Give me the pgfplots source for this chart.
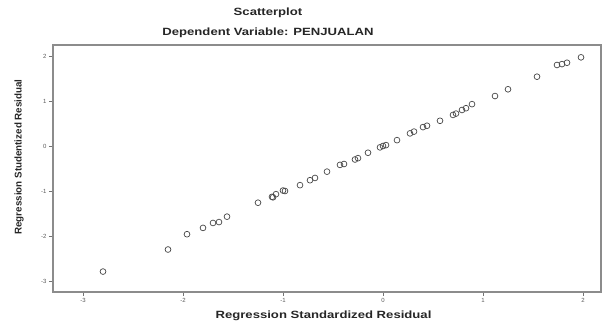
\documentclass[border=0pt]{standalone}
\usepackage{fontspec}
\setmainfont{Liberation Sans}
\newfontfamily\widefont[FakeStretch=1.25]{Liberation Sans}
\usepackage{pgfplots}
\pgfplotsset{compat=1.18}
\begin{document}
\begin{tikzpicture}[x=1pt,y=1pt]
\useasboundingbox (0,0) rectangle (603,324);
\begin{axis}[
  at={(53pt,32pt)}, anchor=south west,
  scale only axis, width=548pt, height=247pt,
  xmin=-3.30, xmax=2.18, ymin=-3.244, ymax=2.244,
  xtick={-3,-2,-1,0,1,2}, ytick={-3,-2,-1,0,1,2},
  xtick pos=left, ytick pos=left,
  tick align=outside, major tick length=4pt,
  axis line style={draw=black!45, line width=1.2pt},
  every tick/.style={black!55, line width=0.6pt},
  tick label style={font=\fontsize{6}{7}\selectfont, text=black!65},
  /pgf/number format/assume math mode=true,
  xticklabel style={yshift=1pt},
  yticklabel style={xshift=1pt},
  clip=false,
]
\addplot[only marks, mark=o, mark size=2.9pt, mark options={draw=black!72, line width=0.7pt}] coordinates {
(-2.80,-2.79) (-2.15,-2.30) (-1.96,-1.96) (-1.80,-1.82) (-1.70,-1.71) (-1.64,-1.69)
(-1.56,-1.57) (-1.25,-1.26) (-1.11,-1.13) (-1.10,-1.14) (-1.07,-1.07) (-1.00,-0.99)
(-0.98,-1.00) (-0.83,-0.87) (-0.73,-0.76) (-0.68,-0.71) (-0.56,-0.57) (-0.43,-0.42)
(-0.39,-0.40) (-0.28,-0.30) (-0.25,-0.27) (-0.15,-0.15) (-0.03,-0.03) (0.00,0.00)
(0.03,0.02) (0.14,0.13) (0.27,0.28) (0.31,0.32) (0.40,0.42) (0.44,0.45)
(0.57,0.56) (0.70,0.69) (0.73,0.72) (0.79,0.80) (0.83,0.84) (0.89,0.93)
(1.12,1.11) (1.25,1.26) (1.54,1.54) (1.74,1.80) (1.79,1.82) (1.84,1.85) (1.98,1.97)
};
\end{axis}
\node[font=\widefont\bfseries\fontsize{10.5}{12}\selectfont, text=black!85] at (268,311) {Scatterplot};
\node[font=\widefont\bfseries\fontsize{10.5}{12}\selectfont, text=black!85] at (268,291) {Dependent Variable: PENJUALAN};
\node[font=\widefont\bfseries\fontsize{10.5}{12}\selectfont, text=black!85] at (323.5,8) {Regression Standardized Residual};
\node[font=\bfseries\fontsize{9.8}{11}\selectfont, text=black!85, rotate=90] at (19,167) {Regression Studentized Residual};
\end{tikzpicture}
\end{document}
